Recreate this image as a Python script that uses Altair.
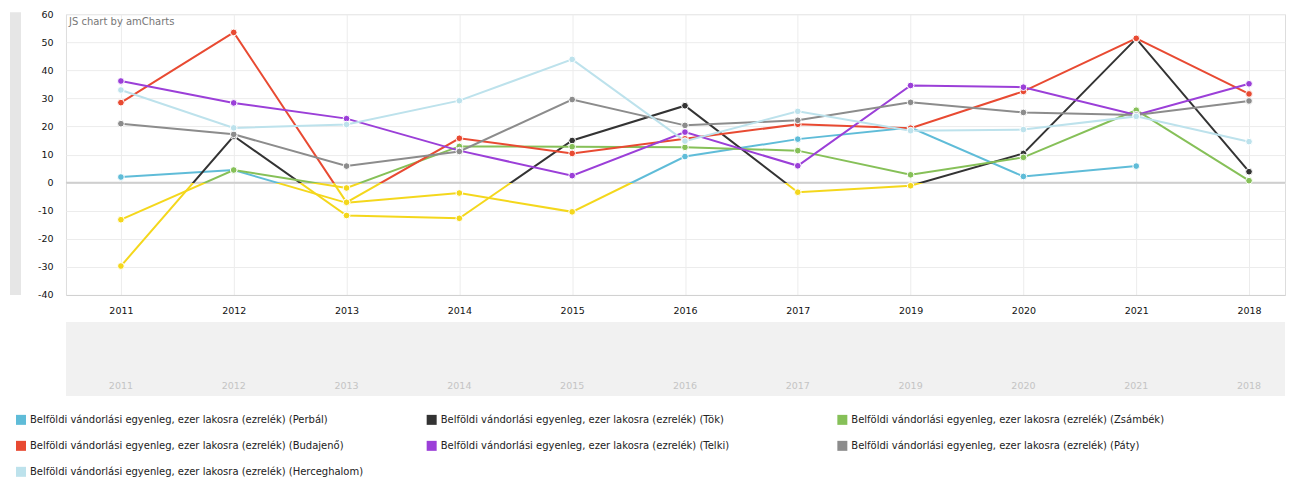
import json
import altair as alt
import pandas as pd

years = ["2011", "2012", "2013", "2014", "2015", "2016", "2017", "2019", "2020", "2021", "2018"]

prefix = "Belföldi vándorlási egyenleg, ezer lakosra (ezrelék) "
towns = ["Perbál", "Tök", "Zsámbék", "Budajenő", "Telki", "Páty", "Herceghalom"]
colors = ["#5fbcd8", "#333333", "#86c058", "#e84a32", "#9b3fd8", "#8c8c8c", "#bde2ec"]
neg_color = "#f4d71c"

perbal = [2.0, 4.5, -7.2, -3.7, -10.4, 9.3, 15.5, 19.6, 2.2, 5.9, None]
tok = [-29.7, 16.6, -11.7, -12.7, 15.0, 27.4, -3.4, -1.1, 10.4, 51.3, 3.9]
zsambek = [-13.2, 4.5, -1.9, 12.9, 12.8, 12.6, 11.4, 2.8, 9.0, 25.8, 0.7]
budajeno = [28.5, 53.5, -7.0, 15.8, 10.4, 15.6, 20.8, 19.4, 32.5, 51.4, 31.6]
telki = [36.2, 28.4, 22.8, 11.4, 2.5, 18.0, 6.0, 34.6, 34.0, 24.1, 35.2]
paty = [21.0, 17.2, 5.9, 11.1, 29.6, 20.4, 22.2, 28.6, 25.0, 24.1, 29.1]
herceghalom = [33.0, 19.5, 20.7, 29.2, 43.9, 14.8, 25.4, 18.5, 18.9, 23.6, 14.6]

series_values = [perbal, tok, zsambek, budajeno, telki, paty, herceghalom]
names = [prefix + "(" + t + ")" for t in towns]

rows = []
for name, vals in zip(names, series_values):
    for i, v in enumerate(vals):
        if v is not None:
            rows.append({"series": name, "idx": i, "year": years[i], "v": v})
df = pd.DataFrame(rows)

W, H = 1220, 281
step = (1184 - 55) / 10.0
xdom = [-55 / step, (W - 55) / step]
FONT = "DejaVu Sans"

label_expr = json.dumps(years) + "[datum.value]"
xs = alt.Scale(domain=xdom, nice=False, zero=False)
ys = alt.Scale(domain=[-40, 60], nice=False, zero=False)

x_axis = alt.Axis(
    values=list(range(len(years))), labelExpr=label_expr, title=None,
    grid=True, gridColor="#ececec", ticks=False, domain=True, domainColor="#d0d0d0",
    labelFont=FONT, labelFontSize=9.5, labelColor="#111", labelPadding=11)
y_axis = alt.Axis(
    values=list(range(-40, 61, 10)), labelExpr="'' + datum.value", labelOverlap=False,
    title=None, grid=True, gridColor="#ececec",
    ticks=False, domain=False, labelFont=FONT, labelFontSize=9.5, labelColor="#111",
    labelPadding=13)
x_enc = alt.X("idx:Q", scale=xs, axis=x_axis)
y_enc = alt.Y("v:Q", scale=ys, axis=y_axis)

one = pd.DataFrame({"a": [0]})

# left scrollbar strip
left_bar = alt.Chart(one).mark_rect(color="#e6e6e6").encode(
    x=alt.value(-56), x2=alt.value(-45), y=alt.value(-2), y2=alt.value(H))

brand = alt.Chart(one).mark_text(
    text="JS chart by amCharts", align="left", baseline="middle",
    font=FONT, fontSize=10, color="#777").encode(x=alt.value(3), y=alt.value(8))

zero_rule = alt.Chart(pd.DataFrame({"v": [0]})).mark_rule(color="#cfcfcf", strokeWidth=2).encode(
    y=y_enc, x=alt.value(0), x2=alt.value(W))

line_layers = []
for name, vals, c in zip(names, series_values, colors):
    present = [v for v in vals if v is not None]
    vmax, vmin = max(present), min(present)
    if vmin < 0:
        f = vmax / (vmax - vmin)
        stroke = alt.LinearGradient(
            gradient="linear",
            stops=[alt.GradientStop(color=c, offset=0), alt.GradientStop(color=c, offset=f),
                   alt.GradientStop(color=neg_color, offset=f), alt.GradientStop(color=neg_color, offset=1)],
            x1=0, x2=0, y1=0, y2=1)
    else:
        stroke = c
    line_layers.append(
        alt.Chart(df).transform_filter(alt.datum.series == name)
        .mark_line(stroke=stroke, strokeWidth=2)
        .encode(x=x_enc, y=y_enc)
    )

points = alt.Chart(df).mark_point(filled=True, size=45, stroke="white", strokeWidth=1, opacity=1).encode(
    x=x_enc, y=y_enc,
    color=alt.condition(
        "datum.v < 0", alt.value(neg_color),
        alt.Color("series:N", scale=alt.Scale(domain=names, range=colors),
                  legend=alt.Legend(orient="none", legendX=-50, legendY=401, columns=3,
                                    direction="horizontal",
                                    title=None, symbolType="square", symbolSize=100,
                                    symbolStrokeWidth=0, symbolOpacity=1, labelFont=FONT,
                                    labelFontSize=10, labelColor="#222", labelLimit=600,
                                    rowPadding=16, columnPadding=63, gridAlign="all",
                                    labelOffset=4))),
)

scroll_bg = alt.Chart(one).mark_rect(color="#f1f1f1").encode(
    x=alt.value(0), x2=alt.value(W), y=alt.value(308), y2=alt.value(382))

ydf = pd.DataFrame({"idx": list(range(len(years))), "year": years})
scroll_labels = alt.Chart(ydf).mark_text(font=FONT, fontSize=9.5, color="#c4c4c4", baseline="middle").encode(
    x=x_enc, y=alt.value(372), text="year:N")

chart = alt.layer(
    left_bar, zero_rule, brand, *line_layers, points, scroll_bg, scroll_labels
).properties(
    width=W, height=H, padding={"left": 2, "top": 1, "right": 0, "bottom": 0}
).configure_view(stroke=None).configure(background="white")

chart.save("out.html", embed_options={"renderer": "svg", "actions": False})
